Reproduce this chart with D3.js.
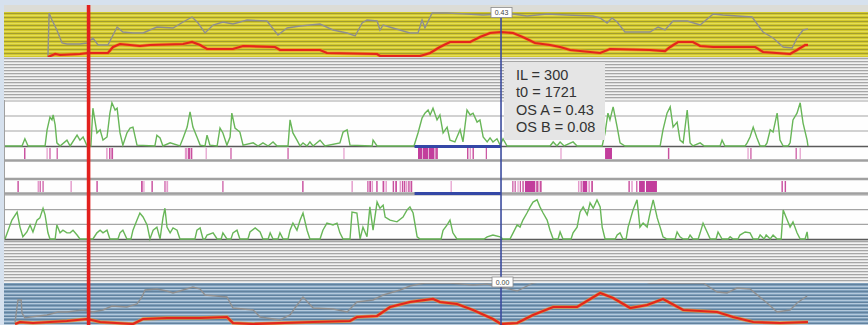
<!DOCTYPE html>
<html>
<head>
<meta charset="utf-8">
<script src="https://cdn.jsdelivr.net/npm/d3@7"></script>
<style>
  body { margin: 0; background: #d6e1ee; }
  svg { display: block; }
</style>
</head>
<body>
<div id="chart"></div>
<script>
// ---- data (t = sample index, v = value) ----
const IL = 300;
const t0 = 1721;
const osA = 0.43;
const osB = 0.08;
const markerT = 290;          // red cursor
const labelTop = 0.43;
const labelBottom = 0.00;

const yellowGray = [[149,0],[153,0.44],[163,0.37],[180,0.27],[198,0.14],[215,0.13],[260,0.13],[285,0.14],[305,0.19],[323,0.12],[357,0.12],[389,0.30],[409,0.25],[444,0.24],[479,0.24],[527,0.30],[583,0.29],[618,0.35],[649,0.40],[670,0.34],[694,0.24],[722,0.32],[756,0.35],[791,0.33],[840,0.37],[909,0.36],[947,0.22],[979,0.29],[1024,0.31],[1093,0.33],[1138,0.27],[1187,0.24],[1215,0.21],[1239,0.34],[1256,0.37],[1291,0.36],[1301,0.27],[1312,0.32],[1346,0.29],[1405,0.24],[1433,0.24],[1447,0.37],[1457,0.29],[1482,0.44],[1534,0.44],[1603,0.43],[1659,0.42],[1721,0.43],[1763,0.43],[1811,0.41],[1881,0.43],[1950,0.42],[2040,0.41],[2065,0.39],[2089,0.34],[2106,0.39],[2124,0.35],[2151,0.25],[2238,0.25],[2266,0.30],[2290,0.27],[2318,0.36],[2367,0.36],[2412,0.32],[2457,0.43],[2491,0.42],[2592,0.40],[2630,0.25],[2665,0.19],[2700,0.10],[2731,0.09],[2748,0.19],[2769,0.27],[2786,0.28]];

const yellowRed = [[149,0],[174,0.03],[191,0.02],[260,0.03],[288,0.04],[357,0.04],[375,0.10],[399,0.13],[468,0.11],[503,0.12],[618,0.13],[649,0.15],[677,0.12],[701,0.08],[791,0.08],[826,0.11],[937,0.10],[954,0.07],[1093,0.07],[1117,0.04],[1291,0.03],[1301,0.01],[1440,0.01],[1475,0.04],[1509,0.10],[1544,0.15],[1614,0.15],[1648,0.20],[1683,0.24],[1721,0.25],[1763,0.24],[1804,0.19],[1839,0.14],[1891,0.12],[1926,0.10],[1961,0.07],[2065,0.04],[2099,0.08],[2238,0.07],[2290,0.06],[2308,0.10],[2335,0.15],[2387,0.15],[2412,0.11],[2457,0.10],[2603,0.10],[2630,0.05],[2724,0.03],[2748,0.07],[2776,0.12],[2786,0.12]];

const activityA = [[0,0],[59,0],[69,0.16],[80,0],[139,0],[146,0.36],[156,0.64],[163,0.58],[167,0.69],[174,0.47],[180,0.07],[191,0],[215,0.13],[226,0],[250,0.24],[260,0.13],[271,0.20],[285,0],[298,0],[305,0.84],[319,0.29],[330,0.36],[340,0.13],[354,0.20],[364,0.73],[371,0.96],[382,0.80],[389,0.84],[399,0.29],[409,0.02],[423,0.29],[434,0.40],[444,0.42],[458,0.02],[520,0],[527,0.24],[538,0.18],[548,0],[573,0.07],[607,0],[618,0.18],[632,0.42],[642,0.76],[652,0.42],[666,0.20],[677,0.02],[694,0],[701,0.24],[711,0.02],[736,0],[746,0.40],[756,0.29],[770,0.02],[781,0.20],[787,0.73],[798,0.40],[815,0.31],[826,0.02],[861,0.07],[878,0],[895,0.07],[913,0],[930,0.09],[944,0],[982,0],[989,0.58],[999,0.29],[1013,0.13],[1024,0],[1034,0.07],[1048,0],[1058,0.09],[1069,0],[1093,0.13],[1110,0],[1162,0.07],[1173,0.31],[1187,0.36],[1197,0.02],[1274,0],[1277,0.13],[1291,0],[1419,0],[1433,0.29],[1447,0.62],[1457,0.73],[1468,0.80],[1475,0.69],[1485,0.84],[1499,0.58],[1509,0.69],[1520,0.29],[1534,0.42],[1544,0.13],[1561,0.09],[1579,0.36],[1589,0.09],[1603,0.80],[1614,0.69],[1624,0.73],[1638,0.53],[1648,0.58],[1659,0.20],[1673,0.09],[1683,0.18],[1693,0.09],[1707,0.16],[1718,0.02],[1728,0.16],[1742,0],[1891,0],[1902,0.09],[1915,0],[1926,0.09],[1940,0],[1971,0.09],[1985,0],[2072,0],[2082,0.29],[2092,0.73],[2099,0.58],[2110,0.87],[2124,0.42],[2134,0.07],[2151,0],[2273,0],[2283,0.36],[2297,0.73],[2308,0.87],[2318,0.42],[2332,0.53],[2342,0.13],[2353,0.07],[2367,0.80],[2377,0.07],[2387,0],[2412,0.07],[2426,0],[2481,0],[2488,0.13],[2498,0],[2568,0],[2575,0.07],[2585,0.20],[2596,0.42],[2609,0.18],[2620,0],[2637,0],[2644,0.07],[2655,0.36],[2665,0.31],[2679,0.73],[2689,0.13],[2700,0],[2717,0],[2724,0.07],[2734,0.58],[2748,0.73],[2759,0.96],[2769,0.51],[2783,0.13],[2786,0]];

const activityB = [[0,0],[24,0.43],[42,0.61],[52,0.27],[62,0.05],[76,0.16],[87,0.32],[97,0.16],[111,0.43],[121,0.48],[132,0.70],[139,0.55],[149,0.14],[156,0],[174,0],[180,0.32],[191,0.14],[201,0.20],[215,0.14],[226,0.14],[236,0.20],[250,0.09],[260,0],[305,0],[319,0.14],[330,0.20],[340,0.14],[354,0.20],[364,0],[392,0],[399,0.14],[409,0.20],[423,0],[437,0],[444,0.20],[458,0.43],[468,0.59],[479,0.50],[493,0.32],[503,0],[514,0.20],[527,0.27],[538,0],[548,0.48],[555,0.70],[562,0.27],[573,0.14],[583,0.25],[597,0.20],[607,0],[659,0],[666,0.20],[677,0.25],[687,0],[694,0],[701,0.09],[722,0.14],[736,0],[750,0],[756,0.14],[770,0],[784,0],[791,0.14],[805,0.20],[815,0],[843,0],[850,0.16],[868,0.25],[885,0.16],[895,0],[913,0],[920,0.14],[930,0],[947,0],[954,0.14],[965,0],[982,0],[989,0.20],[999,0.36],[1013,0.20],[1024,0.43],[1034,0.59],[1048,0.20],[1058,0],[1093,0],[1103,0.20],[1117,0.36],[1138,0.32],[1152,0.36],[1162,0.14],[1173,0],[1197,0],[1204,0.61],[1221,0.59],[1232,0],[1242,0.27],[1256,0.05],[1266,0.73],[1277,0.20],[1291,0.84],[1301,0.70],[1312,0.77],[1319,0.50],[1336,0.43],[1360,0.39],[1381,0.50],[1395,0.66],[1405,0.73],[1416,0.59],[1430,0.05],[1440,0],[1513,0],[1520,0.20],[1534,0.32],[1544,0.43],[1554,0.14],[1568,0],[1662,0],[1673,0.05],[1693,0.09],[1718,0.05],[1728,0],[1752,0],[1763,0.14],[1777,0.32],[1787,0.27],[1797,0.43],[1811,0.59],[1822,0.73],[1832,0.84],[1846,0.89],[1856,0.73],[1867,0.59],[1881,0.43],[1891,0.20],[1902,0],[1919,0],[1926,0.16],[1936,0],[1964,0],[1971,0.14],[1985,0.27],[1995,0.61],[2006,0.73],[2020,0.55],[2030,0.82],[2041,0.70],[2054,0.89],[2065,0.73],[2072,0.27],[2082,0],[2117,0],[2124,0.09],[2134,0.14],[2144,0],[2155,0],[2162,0.27],[2169,0.43],[2179,0.66],[2193,0.89],[2203,0.27],[2214,0.36],[2228,0.27],[2238,0.59],[2249,0.89],[2263,0.48],[2273,0.27],[2283,0.05],[2297,0],[2325,0],[2332,0.16],[2342,0.05],[2353,0],[2370,0],[2377,0.09],[2387,0],[2405,0],[2412,0.14],[2422,0.36],[2436,0.16],[2447,0],[2467,0],[2474,0.16],[2488,0],[2509,0],[2516,0.05],[2526,0],[2543,0],[2550,0.09],[2568,0.16],[2585,0.14],[2596,0],[2613,0],[2620,0.09],[2634,0],[2641,0.09],[2655,0],[2665,0.09],[2679,0],[2693,0],[2700,0.66],[2714,0.43],[2724,0.27],[2734,0.39],[2748,0.14],[2759,0],[2776,0],[2783,0.16],[2786,0]];

const eventsA = [[66,71],[144,148],[154,158],[179,182],[351,356],[361,366],[369,375],[624,633],[635,643],[645,650],[696,700],[782,786],[980,984],[1174,1178],[1433,1447],[1449,1468],[1470,1490],[1493,1502],[1603,1608],[1612,1617],[1622,1627],[1668,1672],[1927,1931],[2082,2106],[2300,2305],[2576,2580],[2586,2590],[2743,2747],[2757,2761]];

const eventsB = [[43,48],[113,118],[120,124],[130,134],[227,232],[317,322],[472,478],[480,484],[508,513],[553,556],[560,566],[754,758],[1031,1036],[1202,1207],[1257,1261],[1264,1270],[1272,1277],[1288,1293],[1310,1316],[1320,1325],[1345,1350],[1354,1360],[1369,1374],[1377,1382],[1384,1389],[1391,1396],[1399,1404],[1407,1413],[1546,1550],[1760,1764],[1768,1772],[1778,1782],[1786,1790],[1795,1800],[1804,1840],[1843,1851],[1855,1862],[1988,1993],[1997,2000],[2004,2020],[2024,2030],[2034,2040],[2163,2168],[2173,2178],[2190,2194],[2200,2220],[2224,2262],[2694,2699],[2705,2710]];

const blueGray = [[35,0.03],[45,0.25],[56,0.25],[59,0.12],[69,0.07],[87,0.08],[146,0.10],[184,0.13],[215,0.13],[271,0.15],[305,0.13],[340,0.15],[371,0.19],[423,0.18],[458,0.21],[475,0.28],[486,0.35],[527,0.36],[562,0.34],[583,0.32],[618,0.35],[652,0.38],[677,0.36],[694,0.30],[770,0.28],[791,0.17],[861,0.15],[885,0.08],[954,0.05],[989,0.10],[1006,0.17],[1034,0.28],[1069,0.17],[1138,0.16],[1187,0.13],[1221,0.23],[1277,0.25],[1312,0.30],[1371,0.35],[1405,0.39],[1457,0.42],[1544,0.42],[1624,0.40],[1673,0.41],[1777,0.34],[1832,0.42],[1874,0.44],[2203,0.44],[2238,0.42],[2422,0.42],[2471,0.33],[2505,0.32],[2540,0.37],[2585,0.36],[2644,0.22],[2679,0.13],[2724,0.15],[2748,0.22],[2783,0.29]];

const blueRed = [[35,0.01],[52,0.03],[97,0.02],[215,0.04],[285,0.06],[330,0.03],[444,0.01],[479,0.06],[562,0.07],[677,0.07],[770,0.08],[791,0.02],[861,0.01],[1069,0.03],[1197,0.04],[1221,0.08],[1291,0.09],[1336,0.18],[1405,0.23],[1485,0.26],[1509,0.23],[1568,0.21],[1624,0.15],[1693,0.06],[1721,0.01],[1777,0.02],[1832,0.10],[1902,0.18],[1985,0.18],[2065,0.32],[2110,0.27],[2169,0.17],[2228,0.20],[2283,0.26],[2353,0.15],[2471,0.13],[2526,0.08],[2596,0.03],[2689,0.02],[2786,0.03]];

// ---- layout ----
const W = 868, H = 325;
const svg = d3.select('#chart').append('svg').attr('width', W).attr('height', H);

const x = d3.scaleLinear().domain([0, 2800]).range([5, 812]);
const yYellow = d3.scaleLinear().domain([0, 0.45]).range([57, 12]);
const yBlue = d3.scaleLinear().domain([0, 0.42]).range([325, 283]);
const yActA = d3.scaleLinear().domain([0, 1]).range([146, 101]);
const yActB = d3.scaleLinear().domain([0, 1]).range([239, 195]);

// top gray strip
svg.append('rect').attr('x', 4).attr('y', 5).attr('width', W - 4).attr('height', 7).attr('fill', '#dcdcd6');

function stripeBand(y0, y1, base, step, dark, light, id) {
  const g = svg.append('g');
  g.append('rect').attr('x', 4).attr('y', y0).attr('width', W - 4).attr('height', y1 - y0).attr('fill', base);
  g.selectAll('line').data(d3.range(y0 + 1, y1, step)).join('line')
    .attr('x1', 4).attr('x2', W)
    .attr('y1', d => Math.round(d) + 0.5).attr('y2', d => Math.round(d) + 0.5)
    .attr('stroke', (d, i) => i % 2 ? light : dark)
    .attr('stroke-width', 1);
  if (id) {
    svg.append('clipPath').attr('id', id).append('rect')
      .attr('x', 4).attr('y', y0).attr('width', W - 4).attr('height', y1 - y0);
  }
}

stripeBand(12, 57, '#d3c92e', 2, '#a29c30', '#e4dc58', 'clipY');
stripeBand(57, 100, '#dcdcdc', 1.5, '#a6a6a6', '#f2f2f2');
stripeBand(240, 283, '#dcdcdc', 1.5, '#a6a6a6', '#f2f2f2');
stripeBand(283, 325, '#80a0bc', 1.75, '#62829e', '#b4c9dc', 'clipB');

// white panels
svg.append('rect').attr('x', 4).attr('y', 100).attr('width', W - 4).attr('height', 140).attr('fill', '#fefefe');

const hline = (y, color, w) => svg.append('line').attr('x1', 4).attr('x2', W)
  .attr('y1', y).attr('y2', y).attr('stroke', color).attr('stroke-width', w);

[1 / 3, 2 / 3, 1].forEach(v => hline(yActA(v), '#a4a4a4', 1.2));
[1 / 3, 2 / 3, 1].forEach(v => hline(yActB(v), '#a4a4a4', 1.2));
hline(yActA(0) + 0.5, '#5a5a5a', 1.4);
hline(160.5, '#a0a0a0', 2.6);
hline(179, '#a0a0a0', 2.6);
hline(193.5, '#a0a0a0', 2.6);
hline(yActB(0) + 0.5, '#5a5a5a', 1.4);
svg.append('line').attr('x1', 4.5).attr('x2', 4.5).attr('y1', 100).attr('y2', 240)
  .attr('stroke', '#a0a0a0').attr('stroke-width', 1);

// event rows
function events(data, y0, y1) {
  svg.append('g').selectAll('rect').data(data).join('rect')
    .attr('x', d => x(d[0]))
    .attr('width', d => Math.max(1.2, x(d[1]) - x(d[0])))
    .attr('y', y0).attr('height', y1 - y0)
    .attr('fill', (d, i) => (d[1] - d[0]) > 10 ? '#c23d9c' : (i % 3 === 1 ? '#e49acb' : '#c9509f'));
}
events(eventsA, 148, 159);
events(eventsB, 181, 192);

// activity lines
const actLine = y => d3.line().x(d => x(d[0])).y(d => y(d[1]));
svg.append('path').datum(activityA).attr('d', actLine(yActA))
  .attr('fill', 'none').attr('stroke', '#68b658').attr('stroke-width', 1.4);
svg.append('path').datum(activityB).attr('d', actLine(yActB))
  .attr('fill', 'none').attr('stroke', '#68b658').attr('stroke-width', 1.4);

// OS lines in colored bands
function osLines(gray, red, y, clip) {
  const g = svg.append('g').attr('clip-path', `url(#${clip})`);
  const line = d3.line().x(d => x(d[0])).y(d => y(d[1]));
  g.append('path').datum(gray).attr('d', line)
    .attr('fill', 'none').attr('stroke', '#8f8f8f').attr('stroke-width', 1.4);
  g.append('path').datum(red).attr('d', line)
    .attr('fill', 'none').attr('stroke', '#f2901e').attr('stroke-width', 3.4).attr('opacity', 0.7);
  g.append('path').datum(red).attr('d', line)
    .attr('fill', 'none').attr('stroke', '#e3261c').attr('stroke-width', 2.2);
}
osLines(yellowGray, yellowRed, yYellow, 'clipY');
osLines(blueGray, blueRed, yBlue, 'clipB');

// interval bars [t0 - IL, t0]
[146.5, 193.5].forEach(y => {
  svg.append('line').attr('x1', x(t0 - IL)).attr('x2', x(t0))
    .attr('y1', y).attr('y2', y).attr('stroke', '#3347a6').attr('stroke-width', 3);
});

// cursors
svg.append('line').attr('x1', x(markerT)).attr('x2', x(markerT)).attr('y1', 5).attr('y2', H)
  .attr('stroke', '#e2201e').attr('stroke-width', 3.6);
svg.append('line').attr('x1', x(t0)).attr('x2', x(t0)).attr('y1', 8).attr('y2', H)
  .attr('stroke', '#3c4c9e').attr('stroke-width', 1.6);

// value labels on the cursor
const fmt = d3.format('.2f');
function valueLabel(cx, cy, v) {
  svg.append('rect').attr('x', cx - 10).attr('y', cy - 5).attr('width', 21).attr('height', 10)
    .attr('fill', '#ffffff').attr('stroke', '#8a8a8a').attr('stroke-width', 0.8);
  svg.append('text').attr('x', cx + 0.5).attr('y', cy + 2.5).attr('text-anchor', 'middle')
    .attr('font-family', 'Liberation Sans, Arial, sans-serif').attr('font-size', 7)
    .attr('fill', '#444').text(fmt(v));
}
valueLabel(x(t0), 12.5, labelTop);
valueLabel(x(t0) + 1, 282, labelBottom);

// tooltip
const tip = svg.append('g');
tip.append('rect').attr('x', x(t0) + 3).attr('y', 62).attr('width', 101).attr('height', 78)
  .attr('fill', '#e5e5e5');
const tipLines = [`IL = ${IL}`, `t0 = ${t0}`, `OS A = ${fmt(osA)}`, `OS B = ${fmt(osB)}`];
tip.selectAll('text').data(tipLines).join('text')
  .attr('x', x(t0) + 15).attr('y', (d, i) => 80 + i * 17.3)
  .attr('font-family', 'Liberation Sans, Arial, sans-serif').attr('font-size', 14.5)
  .attr('fill', '#333').text(d => d);
</script>
</body>
</html>
